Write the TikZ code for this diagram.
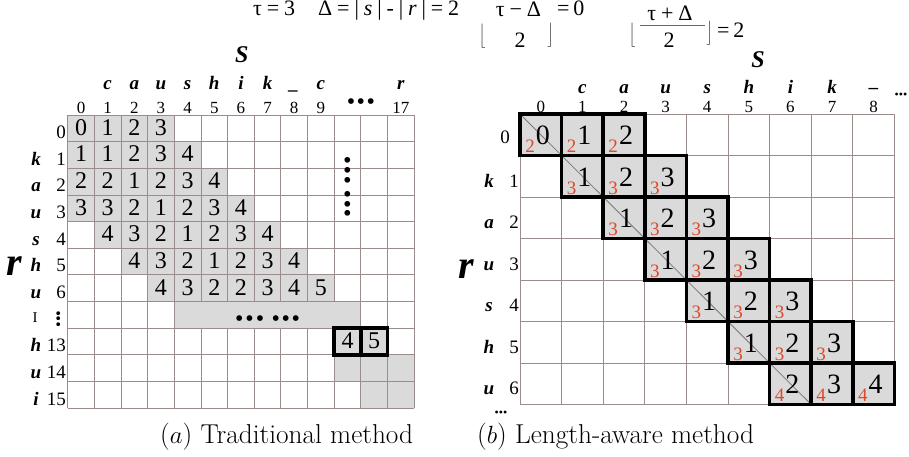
\documentclass[tikz,border=0pt]{standalone}
\usepackage{fontspec}
\newfontfamily\tms{Liberation Serif}
\definecolor{gridc}{RGB}{155,140,140}
\definecolor{cellg}{RGB}{218,218,218}
\definecolor{redn}{RGB}{222,72,42}
\definecolor{diagc}{RGB}{120,120,120}
\newcommand{\fsz}[1]{\fontsize{#1}{#1}\selectfont}
\newcommand{\bigdelim}[1]{$\left#1\vrule height 7.5pt depth 7.5pt width 0pt\right.$}
\newcommand{\bigdelimr}[1]{$\left.\vrule height 7.5pt depth 7.5pt width 0pt\right#1$}
\tikzset{
  gline/.style={draw=gridc, line width=0.9pt},
  tbox/.style={draw=black, line width=3.6pt},
  lbl/.style={inner sep=0pt, font=\tms\bfseries\itshape\fsz{19}},
  hnum/.style={inner sep=0pt, font=\tms\fsz{17}},
  rnum/.style={inner sep=0pt, font=\tms\fsz{19}},
  cval/.style={inner sep=0pt, font=\tms\fsz{24}},
  rval/.style={inner sep=0pt, font=\tms\fsz{28}},
  redv/.style={inner sep=0pt, font=\tms\fsz{19}, text=redn},
  capt/.style={inner sep=0pt, font=\fsz{27.3}, anchor=base west},
  frm/.style={inner sep=0pt, font=\tms\fsz{22}},
  dots/.style={inner sep=0pt, font=\tms\fsz{24}},
  bigl/.style={inner sep=0pt, font=\tms\bfseries\itshape\fsz{24}},
  flr/.style={inner sep=0pt, font=\fsz{20}},
}
\begin{document}
\begin{tikzpicture}[x=1pt,y=-1pt]
\useasboundingbox (0,0) rectangle (909,456);
\def\LX{67.7}\def\LW{26.65}\def\LY{115}
\def\RX{520}\def\RW{41.6}\def\RY{114}\def\RH{41.5}

% ---------------- formula ----------------
\node[frm, anchor=base west] (f1) at (253,15.5) {τ\:=\:3};
\node[frm, anchor=base west] (f2) at (318,15.5) {Δ\:=\:|\:\textit{s}\:|\:-\:|\:\textit{r}\:|\:=\:2};
\node[flr] (fl1) at (483,36) {\bigdelim\lfloor};
\node[frm, anchor=base] (fn1) at (518.5,16.5) {τ\:−\:Δ};
\node[frm, anchor=base] (fd1) at (520,47) {2};
\node[flr] (fr1) at (550,35) {\bigdelimr\rfloor};
\node[frm, anchor=base west] (f3) at (557,15.5) {=\,0};
\node[flr] (fl2) at (633,35) {\bigdelim\lfloor};
\node[frm, anchor=base] (fn2) at (670,20.5) {τ\:+\:Δ};
\coordinate (bar2a) at (640,25);
\coordinate (bar2b) at (705,25);
\draw[line width=0.5pt, black!60] (bar2a) -- (bar2b);
\node[frm, anchor=base] (fd2) at (669,47) {2};
\node[flr] (fr2) at (709,33) {\bigdelimr\rfloor};
\node[frm, anchor=base west] (f4) at (717,37) {=\,2};

% ---------------- left grid ----------------
\foreach \rr/\ss/\vals in {0/0/{0,1,2,3},1/0/{1,1,2,3,4},2/0/{2,2,1,2,3,4},3/0/{3,3,2,1,2,3,4},4/1/{4,3,2,1,2,3,4},5/2/{4,3,2,1,2,3,4},6/3/{4,3,2,2,3,4,5}}{
  \foreach \vv [count=\kk from 0] in \vals {
    \pgfmathsetmacro\px{\LX+(\ss+\kk)*\LW}
    \pgfmathsetmacro\py{\LY+\rr*\LW}
    \fill[cellg] (\px,\py) rectangle ++(\LW,\LW);
    \node[cval, anchor=base] (L-\rr-\kk) at (\px+\LW/2, \py+\LW-6.5) {\vv};
  }
}
% row 13 (grid row 8), 14 (9), 15 (10)
\foreach \rr/\cc in {8/10,8/11,9/10,9/11,9/12,10/11,10/12}{
  \fill[cellg] ({\LX+\cc*\LW},{\LY+\rr*\LW}) rectangle ++(\LW,\LW);
}
% grid lines
\foreach \i in {0,...,13}{
  \draw[gline] ({\LX+\i*\LW},\LY) -- ++(0,{11*\LW});
}
\foreach \j in {0,...,11}{
  \draw[gline] (\LX,{\LY+\j*\LW}) -- ++({13*\LW},0);
}
% merged gray band in the dots row
\fill[cellg] ({\LX+4*\LW+0.5},{\LY+7*\LW+0.5}) rectangle ({\LX+11*\LW-0.5},{\LY+8*\LW-0.5});
\node[dots] (ldotsh) at (267.5,321) {•\hspace{2pt}•\hspace{2pt}•\hspace{7.5pt}•\hspace{1.5pt}•\hspace{1.5pt}•};
\node[dots, rotate=90] (ldotsv) at (350,187) {•\hspace{1pt}•\hspace{1pt}•\hspace{6pt}•\hspace{1.5pt}•\hspace{1.5pt}•};
% bold boxes
\draw[tbox] ({\LX+10*\LW},{\LY+8*\LW}) rectangle ++(\LW,\LW);
\draw[tbox] ({\LX+11*\LW},{\LY+8*\LW}) rectangle ++(\LW,\LW);
\node[cval, anchor=base] (L-13-a) at ({\LX+10.5*\LW},{\LY+9*\LW-6.5}) {4};
\node[cval, anchor=base] (L-13-b) at ({\LX+11.5*\LW},{\LY+9*\LW-6.5}) {5};
% column headers
\foreach \cc in {0,...,9}{
  \node[hnum, anchor=base] (lhn-\cc) at ({\LX+(\cc+0.5)*\LW},113.5) {\cc};
}
\node[hnum, anchor=base] (lhn-17) at ({\LX+12.5*\LW},113.5) {17};
\node[dots] (lhdots) at ({\LX+11*\LW},104) {•\hspace{1.5pt}•\hspace{1.5pt}•};
\foreach \cc/\tt in {1/c,2/a,3/u,4/s,5/h,6/i,7/k,8/\_,9/c,12/r}{
  \node[lbl, anchor=base] (lhl-\cc) at ({\LX+(\cc+0.5)*\LW},89) {\tt};
}
\node[bigl] (lS) at (241.7,55) {S};
% row headers
\foreach \rr/\tt in {0/0,1/1,2/2,3/3,4/4,5/5,6/6,8/13,9/14,10/15}{
  \node[rnum, anchor=base east] (lrn-\rr) at (66,{\LY+(\rr+1)*\LW-3}) {\tt};
}
\foreach \rr/\tt in {1/k,2/a,3/u,4/s,5/h,6/u,8/h,9/u,10/i}{
  \node[lbl, anchor=base] (lrl-\rr) at (36,{\LY+(\rr+1)*\LW-3}) {\tt};
}
\node[inner sep=0pt, font=\tms\fsz{15}] (lrl-7) at (35,318) {I};
\node[inner sep=0pt, font=\tms\fsz{16}, rotate=90] (lrn-7) at (60,319) {•••};
\node[inner sep=0pt, font=\tms\bfseries\itshape\fsz{40}] (lr) at (14,266) {r};

% ---------------- right grid ----------------
\foreach \rr/\ss in {0/0,1/1,2/2,3/3,4/4,5/5,6/6}{
  \foreach \kk in {0,1,2}{
    \fill[cellg] ({\RX+(\ss+\kk)*\RW},{\RY+\rr*\RH}) rectangle ++(\RW,\RH);
  }
}
\foreach \i in {0,...,9}{
  \draw[gline] ({\RX+\i*\RW},\RY) -- ++(0,{7*\RH});
}
\foreach \j in {0,...,7}{
  \draw[gline] (\RX,{\RY+\j*\RH}) -- ++({9*\RW},0);
}
\coordinate (dgA) at (\RX,\RY);
\coordinate (dgB) at ({\RX+7*\RW},{\RY+7*\RH});
\draw[diagc, line width=0.8pt] (dgA) -- (dgB);
\foreach \rr/\ss/\vals/\rd in {0/0/{0,1,2}/2,1/1/{1,2,3}/3,2/2/{1,2,3}/3,3/3/{1,2,3}/3,4/4/{1,2,3}/3,5/5/{1,2,3}/3,6/6/{2,3,4}/4}{
  \foreach \vv [count=\kk from 0] in \vals {
    \pgfmathsetmacro\px{\RX+(\ss+\kk)*\RW}
    \pgfmathsetmacro\py{\RY+\rr*\RH}
    \draw[tbox] (\px,\py) rectangle ++(\RW,\RH);
    \node[rval, anchor=base] (R-\rr-\kk) at (\px+\RW/2+2, \py+\RH-11) {\vv};
    \node[redv, anchor=base] (Rr-\rr-\kk) at (\px+10, \py+\RH-3) {\rd};
  }
}
% right column headers
\foreach \cc in {0,...,8}{
  \node[hnum, anchor=base] (rhn-\cc) at ({\RX+(\cc+0.5)*\RW},112) {\cc};
}
\foreach \cc/\tt in {1/c,2/a,3/u,4/s,5/h,6/i,7/k,8/–}{
  \node[lbl, anchor=base] (rhl-\cc) at ({\RX+(\cc+0.5)*\RW},93) {\tt};
}
\node[bigl] (rS) at (758,60) {S};
\node[inner sep=0pt, font=\tms\fsz{12}] (rhdots) at (901,96) {•••};
% right row headers
\node[rnum, anchor=base] (rrn-0) at (505,{\RY+0.5*\RH+9}) {0};
\foreach \rr in {1,...,6}{
  \node[rnum, anchor=base] (rrn-\rr) at (514,{\RY+(\rr+0.5)*\RH+11}) {\rr};
}
\foreach \rr/\tt in {1/k,2/a,3/u,4/s,5/h,6/u}{
  \node[lbl, anchor=base] (rrl-\rr) at (489,{\RY+(\rr+0.5)*\RH+11}) {\tt};
}
\node[inner sep=0pt, font=\tms\fsz{12}] (rrdots) at (501,414) {•••};
\node[inner sep=0pt, font=\tms\bfseries\itshape\fsz{40}] (rr) at (466,269) {r};

% ---------------- captions ----------------
\node[capt] (capa) at (160,443) {($a$) Traditional method};
\node[capt] (capb) at (477,443) {($b$) Length-aware method};
\end{tikzpicture}
\end{document}
